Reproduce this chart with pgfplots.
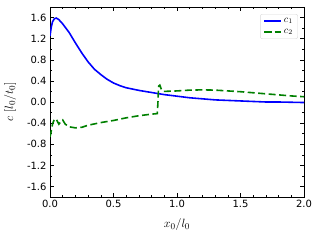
\documentclass[border=0pt]{standalone}
\usepackage{fontspec}
\setmainfont{DejaVu Sans}
\usepackage{pgfplots}
\pgfplotsset{compat=1.18}
\begin{document}
\begin{tikzpicture}
\useasboundingbox (-50bp,-43bp) rectangle (270bp,197bp);
\begin{axis}[
  scale only axis, width=254bp, height=190bp,
  xmin=0, xmax=2, ymin=-1.8, ymax=1.8,
  xtick={0,0.5,1,1.5,2}, ytick={-1.6,-1.2,-0.8,-0.4,0,0.4,0.8,1.2,1.6},
  minor x tick num=4, minor y tick num=1,
  tick align=inside, tick pos=both,
  major tick length=4bp, minor tick length=2bp,
  axis line style={line width=0.6pt},
  every tick/.style={black,line width=0.5pt},
  /pgf/number format/assume math mode=true,
  /pgf/number format/fixed, /pgf/number format/fixed zerofill, /pgf/number format/precision=1,
  tick label style={font=\fontsize{10}{12}\selectfont},
  xlabel={$x_0/l_0$}, ylabel={$c\ [l_0/t_0]$},
  label style={font=\fontsize{13}{15}\selectfont},
  xlabel style={yshift=-4bp},
  ylabel style={yshift=4bp},
  legend style={at={(rel axis cs:0.976,0.963)}, anchor=north east, draw=gray!30, rounded corners=2pt, font=\fontsize{10}{12}\selectfont, row sep=1bp},
  legend cell align=left,
  legend image post style={xscale=1.0},
]
\addplot[blue, line width=1.6pt] coordinates {
(0,1.25)(0.01,1.42)(0.02,1.52)(0.035,1.58)(0.05,1.59)(0.07,1.56)(0.1,1.48)(0.15,1.32)(0.2,1.12)(0.25,0.93)(0.3,0.76)(0.35,0.62)(0.4,0.52)(0.45,0.43)(0.5,0.36)(0.55,0.31)(0.6,0.27)(0.7,0.22)(0.8,0.18)(0.9,0.14)(1.0,0.11)(1.1,0.08)(1.2,0.06)(1.3,0.04)(1.4,0.03)(1.5,0.02)(1.6,0.01)(1.7,0.0)(1.8,0.0)(1.9,-0.005)(2.0,-0.01)
};
\addlegendentry{$c_1$}
\addplot[green!50!black, line width=1.6pt, dash pattern=on 7bp off 3.5bp] coordinates {
(0,-0.66)(0.01,-0.55)(0.02,-0.42)(0.035,-0.32)(0.05,-0.33)(0.07,-0.42)(0.09,-0.36)(0.1,-0.34)(0.12,-0.42)(0.15,-0.47)(0.2,-0.49)(0.25,-0.48)(0.3,-0.44)(0.4,-0.39)(0.5,-0.35)(0.6,-0.30)(0.7,-0.26)(0.8,-0.23)(0.845,-0.22)(0.85,0.0)(0.855,0.30)(0.865,0.32)(0.875,0.25)(0.89,0.20)(1.0,0.21)(1.1,0.225)(1.2,0.23)(1.3,0.225)(1.4,0.21)(1.5,0.195)(1.6,0.175)(1.7,0.155)(1.8,0.135)(1.9,0.115)(2.0,0.10)
};
\addlegendentry{$c_2$}
\end{axis}
\end{tikzpicture}
\end{document}
